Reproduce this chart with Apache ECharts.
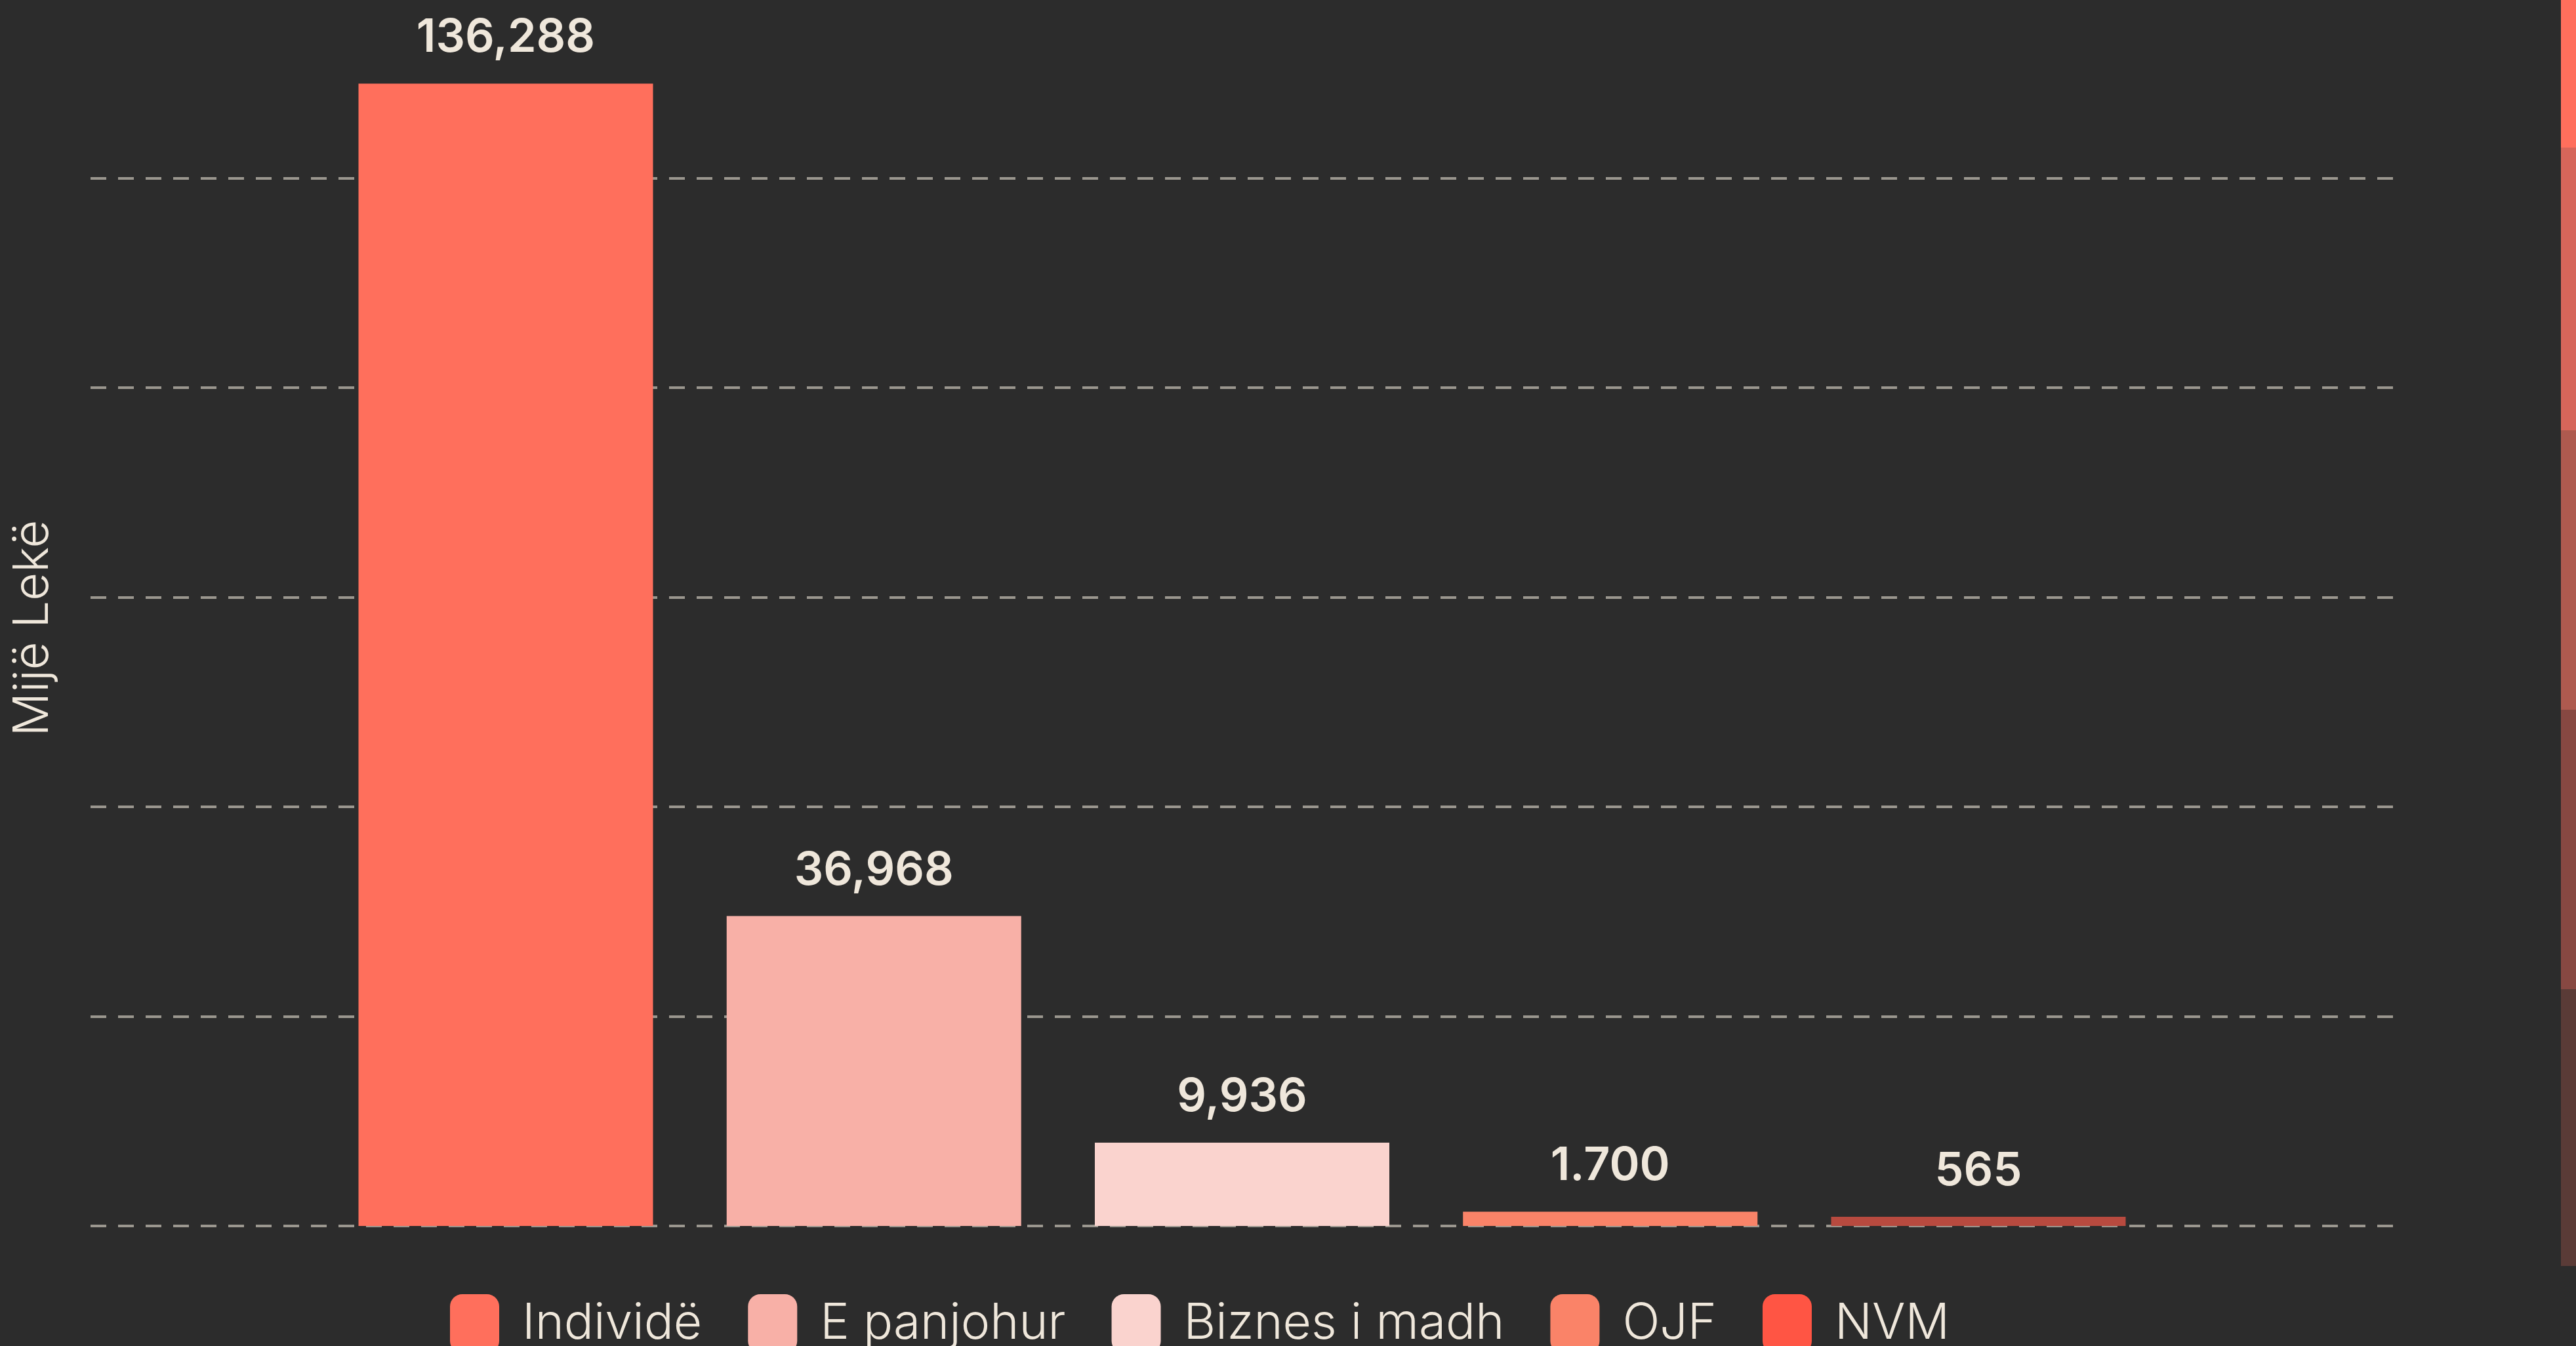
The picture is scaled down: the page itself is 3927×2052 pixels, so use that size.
<!DOCTYPE html>
<html>
<head>
<meta charset="utf-8">
<script src="https://cdn.jsdelivr.net/npm/echarts@6/dist/echarts.min.js"></script>
<style>
html,body{margin:0;padding:0;background:#2c2c2c;}
#c{width:3927px;height:2052px;}
</style>
</head>
<body>
<div id="c"></div>
<script>
const categories = ['Individë', 'E panjohur', 'Biznes i madh', 'OJF', 'NVM'];
const values = [136288, 36968, 9936, 1700, 565];
const valueLabels = ['136,288', '36,968', '9,936', '1.700', '565'];
const barColors = ['#FF6F5C', '#F8B0A7', '#FAD3CE', '#FA8368', '#B84A3F'];
const legendColors = ['#FF6F5C', '#F8B0A7', '#FAD3CE', '#FA8368', '#FF5544'];
const yMin = 0;
const yMax = 140000;
const yStep = 25000;
const axisTitle = 'Mijë Lekë';
const sideStripColors = ['#FF6F5C', '#D6665A', '#AE5A4F', '#874842', '#5A3B37'];

const cream = '#EFE7DB';
const series = categories.map((name, i) => ({
  name: name,
  type: 'bar',
  data: [values[i]],
  barWidth: 449,
  barGap: '25%',
  barMinHeight: 14,
  itemStyle: { color: barColors[i] },
  label: {
    show: true,
    position: 'top',
    distance: 34,
    formatter: () => valueLabels[i],
    color: cream,
    fontFamily: 'Inter',
    fontWeight: 600,
    fontSize: 70
  }
}));

const stripTops = [-200, 225, 656, 1082, 1508];
const stripBottoms = [225, 656, 1082, 1508, 1930];
const graphics = sideStripColors.map((c, i) => ({
  type: 'rect',
  shape: { x: 3904, y: stripTops[i], width: 30, height: stripBottoms[i] - stripTops[i] },
  style: { fill: c },
  silent: true
}));

const chart = echarts.init(document.getElementById('c'), null, { renderer: 'canvas' });
chart.setOption({
  backgroundColor: '#2c2c2c',
  animation: false,
  grid: { left: 138, right: 278, top: 80, bottom: 183 },
  legend: {
    left: 681,
    top: 1968,
    itemWidth: 75,
    itemHeight: 90,
    itemGap: 70,
    icon: 'roundRect',
    data: categories.map((n, i) => ({ name: n, itemStyle: { color: legendColors[i] } })),
    textStyle: {
      color: cream,
      fontFamily: 'Inter',
      fontWeight: 300,
      fontSize: 75,
      padding: [0, 0, 0, 30]
    }
  },
  xAxis: {
    type: 'category',
    data: [''],
    axisLine: { show: false },
    axisTick: { show: false },
    axisLabel: { show: false }
  },
  yAxis: {
    type: 'value',
    min: yMin,
    max: yMax,
    interval: yStep,
    name: axisTitle,
    nameLocation: 'middle',
    nameRotate: 90,
    nameGap: 50,
    nameTextStyle: {
      color: cream,
      fontFamily: 'Inter',
      fontWeight: 300,
      fontSize: 74,
      padding: [0, 0, 0, 34]
    },
    axisLine: { show: false },
    axisTick: { show: false },
    axisLabel: { show: false },
    splitLine: {
      show: true,
      showMaxLine: false,
      lineStyle: { color: '#9b978f', width: 4, type: [24, 18] }
    }
  },
  graphic: graphics,
  series: series
});
</script>
</body>
</html>
